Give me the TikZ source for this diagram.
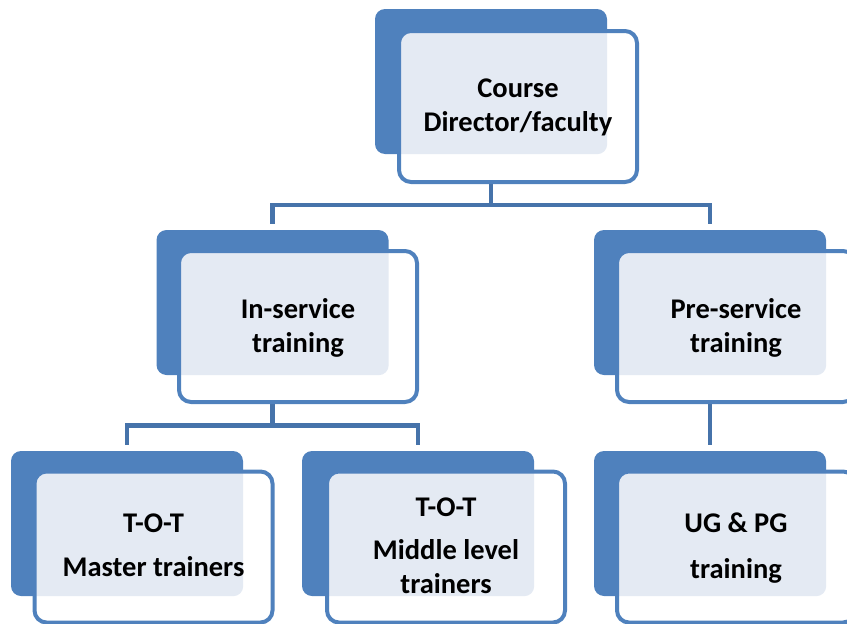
\documentclass[tikz,border=0pt]{standalone}
\usepackage{fontspec}
\setmainfont{Carlito}
\usetikzlibrary{backgrounds}
\definecolor{boxblue}{RGB}{79,129,189}
\definecolor{linkblue}{RGB}{70,115,170}
\definecolor{dotblue}{RGB}{228,234,243}
\newcommand{\boxfont}{\fontsize{28.5}{34}\selectfont\bfseries}
\begin{document}
\begin{tikzpicture}[x=1pt,y=-1pt,
	backbox/.style={rectangle,rounded corners=10pt,fill=boxblue,inner sep=0pt,
		minimum width=232pt,minimum height=145pt},
	frontbox/.style={rectangle,rounded corners=12pt,draw=boxblue,line width=4pt,fill=white,
		inner sep=0pt,minimum width=238pt,minimum height=151pt,align=center,font=\boxfont,
		text depth=3pt,
		path picture={\fill[dotblue,rounded corners=10pt] (#1.north west) rectangle (#1.south east);}},
	link/.style={draw=linkblue,line width=4.5pt,shorten >=6pt}]
	\useasboundingbox (0,0) rectangle (847,624);

	% back boxes
	\node[backbox] at (491,81.5) (topb) {};
	\node[backbox] at (272.5,302.5) (insvcb) {};
	\node[backbox] at (710,302.5) (presvcb) {};
	\node[backbox] at (127,523.5) (masterb) {};
	\node[backbox] at (418,523.5) (middleb) {};
	\node[backbox] at (710,523.5) (ugb) {};

	% front boxes
	\node[frontbox=topb] at (518,106.5) (top) {Course\\Director/faculty};
	\node[frontbox=insvcb] at (298,326.5) (insvc) {In-service\\training};
	\node[frontbox=presvcb] at (736,326.5) (presvc) {Pre-service\\training};
	\node[frontbox=masterb] at (153.5,547) (master) {T-O-T\\[10pt]Master trainers};
	\node[frontbox=middleb] at (446,547) (middle) {T-O-T\\[9pt]Middle level\\trainers};
	\node[frontbox=ugb] at (736,547) (ug) {UG \& PG\\[12pt]training};

	% links
	\coordinate (topj) at (491,205);
	\coordinate (insvcj) at (272.5,425.5);
	\begin{scope}[on background layer]
		\draw[link,shorten >=0pt] (topb.south) -- (topj);
		\draw[link] (topj) -| (insvcb.north);
		\draw[link] (topj) -| (presvcb.north);
		\draw[link,shorten >=0pt] (insvcb.south) -- (insvcj);
		\draw[link] (insvcj) -| (masterb.north);
		\draw[link] (insvcj) -| (middleb.north);
		\draw[link] (presvcb.south) -- (ugb.north);
	\end{scope}
\end{tikzpicture}
\end{document}
